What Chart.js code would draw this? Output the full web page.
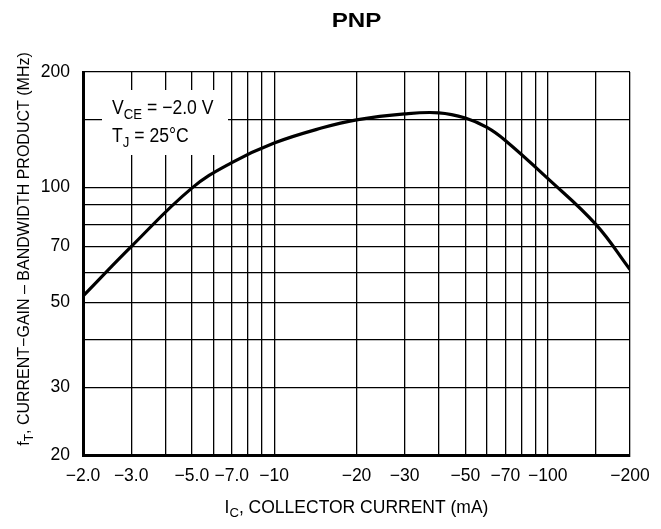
<!DOCTYPE html>
<html lang="en">
<head>
  <meta charset="UTF-8">
  <title>PNP fT vs IC</title>
  <style>
    html, body { margin: 0; padding: 0; background: #fff; }
    #wrap { width: 661px; height: 529px; }
  </style>
  <script src="https://cdn.jsdelivr.net/npm/chart.js"></script>
</head>
<body>
  <div id="wrap"><canvas id="chart" width="661" height="529"></canvas></div>
  <script>
    // collector current magnitude (mA), drawn as negative values
    const icValues = [2, 3, 5, 7, 10, 15, 20, 30, 40, 50, 60, 70, 100, 150, 200];
    // current-gain bandwidth product (MHz)
    const ftValues = [52, 70, 99.5, 116, 130.5, 143, 150, 155.5, 156.5, 151.7, 143.3, 132.5, 105.5, 80, 61];

    const xGrid = [2, 3, 4, 5, 6, 7, 8, 9, 10, 20, 30, 40, 50, 60, 70, 80, 90, 100, 150, 200];
    const xLabels = { 2: '\u22122.0', 3: '\u22123.0', 5: '\u22125.0', 7: '\u22127.0', 10: '\u221210',
      20: '\u221220', 30: '\u221230', 50: '\u221250', 70: '\u221270', 100: '\u2212100', 200: '\u2212200' };
    const yGrid = [20, 30, 40, 50, 60, 70, 80, 90, 100, 150, 200];
    const yLabels = { 20: '20', 30: '30', 50: '50', 70: '70', 100: '100', 200: '200' };

    const FONT = '"Liberation Sans", Arial, sans-serif';

    // draw text pieces, some as subscripts
    function drawParts(ctx, parts, x, y, size) {
      let cx = x;
      parts.forEach(p => {
        const s = p.sub ? size * 0.75 : size;
        ctx.font = s + 'px ' + FONT;
        ctx.fillText(p.t, cx, p.sub ? y + size * 0.25 : y);
        cx += ctx.measureText(p.t).width;
      });
      return cx - x;
    }
    function partsWidth(ctx, parts, size) {
      let w = 0;
      parts.forEach(p => {
        ctx.font = (p.sub ? size * 0.75 : size) + 'px ' + FONT;
        w += ctx.measureText(p.t).width;
      });
      return w;
    }

    const textPlugin = {
      id: 'texts',
      beforeDatasetsDraw(chart) {
        const ctx = chart.ctx;
        ctx.save();
        // legend box over the grid
        ctx.fillStyle = '#fff';
        ctx.fillRect(102, 90, 126, 65);
        ctx.fillStyle = '#000';
        ctx.textBaseline = 'alphabetic';
        ctx.textAlign = 'left';
        ctx.translate(112, 0);
        ctx.scale(0.88, 1);
        drawParts(ctx, [{ t: 'V' }, { t: 'CE', sub: true }, { t: ' = \u22122.0 V' }], 0, 114, 20);
        drawParts(ctx, [{ t: 'T' }, { t: 'J', sub: true }, { t: ' = 25\u00B0C' }], 0, 142, 20);
        ctx.restore();
      },
      afterDraw(chart) {
        const ctx = chart.ctx;
        const area = chart.chartArea;
        const cxMid = (area.left + area.right) / 2;
        ctx.save();
        ctx.fillStyle = '#000';
        ctx.textBaseline = 'alphabetic';
        ctx.textAlign = 'center';
        ctx.save();
        ctx.translate(cxMid, 27);
        ctx.scale(1.15, 1);
        ctx.font = 'bold 21px ' + FONT;
        ctx.fillText('PNP', 0, 0);
        ctx.restore();

        // x axis title
        ctx.textAlign = 'left';
        const xParts = [{ t: 'I' }, { t: 'C', sub: true }, { t: ', COLLECTOR CURRENT (mA)' }];
        const xw = partsWidth(ctx, xParts, 17.5);
        drawParts(ctx, xParts, cxMid - xw / 2, 513, 17.5);

        // y axis title
        const yParts = [{ t: 'f' }, { t: 'T', sub: true }, { t: ', CURRENT\u2212GAIN \u2013 BANDWIDTH PRODUCT (MHz)' }];
        const yw = partsWidth(ctx, yParts, 16);
        ctx.translate(29, 249);
        ctx.rotate(-Math.PI / 2);
        drawParts(ctx, yParts, -yw / 2, 0, 16);
        ctx.restore();
      }
    };

    new Chart(document.getElementById('chart'), {
      type: 'line',
      data: {
        datasets: [{
          data: icValues.map((v, i) => ({ x: v, y: ftValues[i] })),
          borderColor: '#000',
          borderWidth: 3.2,
          pointRadius: 0,
          tension: 0.4,
          fill: false
        }]
      },
      options: {
        responsive: false,
        animation: false,
        devicePixelRatio: 1,
        layout: { padding: { left: 0, right: 31, top: 72, bottom: 0 } },
        plugins: { legend: { display: false }, tooltip: { enabled: false }, title: { display: false } },
        scales: {
          x: {
            type: 'logarithmic',
            min: 2,
            max: 200,
            afterBuildTicks(scale) { scale.ticks = xGrid.map(v => ({ value: v })); },
            afterFit(scale) { scale.height = 74; },
            grid: { color: '#000', lineWidth: 1.3, drawTicks: false },
            border: { color: '#000', width: 3 },
            ticks: {
              autoSkip: false,
              maxRotation: 0,
              padding: 11,
              color: '#000',
              font: { family: FONT, size: 17.5 },
              callback: v => xLabels[v] || ''
            }
          },
          y: {
            type: 'logarithmic',
            min: 20,
            max: 200,
            afterBuildTicks(scale) { scale.ticks = yGrid.map(v => ({ value: v })); },
            afterFit(scale) { scale.width = 83; },
            grid: { color: '#000', lineWidth: 1.3, drawTicks: false },
            border: { color: '#000', width: 3 },
            ticks: {
              autoSkip: false,
              padding: 13,
              color: '#000',
              font: { family: FONT, size: 17.5 },
              callback: v => yLabels[v] || ''
            }
          }
        }
      },
      plugins: [textPlugin]
    });
  </script>
</body>
</html>
